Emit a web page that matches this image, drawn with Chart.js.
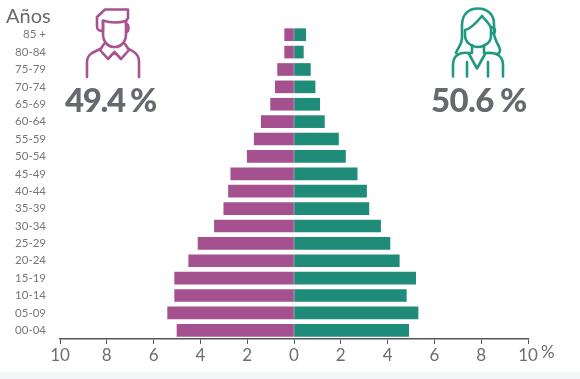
<!DOCTYPE html>
<html><head><meta charset="utf-8">
<script src="https://cdn.jsdelivr.net/npm/chart.js@4"></script>
<style>
html,body{margin:0;padding:0;background:#fff;width:580px;height:379px;overflow:hidden;font-family:Lato,sans-serif}
#wrap{position:relative;width:580px;height:379px}
#strip{position:absolute;left:0;top:372px;width:580px;height:7px;background:#f4f5f7}
canvas{position:absolute;left:0;top:0}
.t{position:absolute;color:#666a6e;white-space:nowrap;line-height:1}
.big{font-size:33px;font-weight:900;letter-spacing:-.6px;word-spacing:-1px}
svg{position:absolute;left:0;top:0}
</style></head><body>
<div id="wrap">
<div id="strip"></div>
<canvas id="c" width="580" height="379"></canvas>
<div class="t" style="left:6px;top:5px;font-size:20px">Años</div>
<div class="t big" style="left:65px;top:83px;letter-spacing:-1.4px">49.4 %</div>
<div class="t big" style="left:431px;top:83px">50.6 %</div>
<div class="t" style="left:541px;top:343px;font-size:17px">%</div>
<svg width="580" height="379" fill="none" stroke-width="2.6" stroke-linecap="round" stroke-linejoin="round">
<g stroke="#a8538f">
<path d="M103 31C98 31 97 29 97 26V17L105 9.500H128V18L126 21C118 23 110 23 103 20.500Z"/>
<path d="M103 21V34C103 42 108 47 114.500 47C121 47 126 42 126 34V21"/>
<path d="M126 24C128 24 128.500 26 128.500 28C128.500 31 127 32 126 32"/>
<path d="M104 44L100 50L108 59L114.500 52L121 59L129 50L125 44"/>
<path d="M100 49L92 53C89 55 87 58 87 62V77"/>
<path d="M129 49L134 52C137 54 139 58 139 62V77"/>
</g>
<g stroke="#1f9a80">
<path d="M456 53C458 47 462 45 462 38V25C462 14 469 8.500 478 8.500C487 8.500 494 14 494 24V33C494 40 500 46 500 50C500 53 498 54 496 54"/>
<path d="M465 30C471 29 477 22 482 16C486 21 491 25 491 29V36C491 42 485 47 478 47C471 47 465 42 465 35Z"/>
<path d="M491 27C494 27 495 29 495 31C495 33 493 34 491 33"/>
<path d="M472 45V53L468 53M484 45V53L488 53"/>
<path d="M468 53C460 52 453 55 453 65V76.500"/>
<path d="M488 53C496 52 503 56 503 65V76.500"/>
<path d="M469 54L477 68.500L485 54"/>
<path d="M467 62V76.500M488 62V76.500"/>
</g>
</svg>
</div>
<script>
const categories=['85 +','80-84','75-79','70-74','65-69','60-64','55-59','50-54','45-49','40-44','35-39','30-34','25-29','20-24','15-19','10-14','05-09','00-04'];
const men=[0.4,0.4,0.7,0.8,1.0,1.4,1.7,2.0,2.7,2.8,3.0,3.4,4.1,4.5,5.1,5.1,5.4,5.0];
const women=[0.5,0.4,0.7,0.9,1.1,1.3,1.9,2.2,2.7,3.1,3.2,3.7,4.1,4.5,5.2,4.8,5.3,4.9];
const xTicks=[-10,-8,-6,-4,-2,0,2,4,6,8,10];
new Chart(document.getElementById('c'),{
 type:'bar',
 data:{labels:categories,datasets:[
  {label:'Hombres',data:men.map(v=>-v),backgroundColor:'#a5508f',barThickness:12,borderWidth:0},
  {label:'Mujeres',data:women,backgroundColor:'#1e8c78',barThickness:12,borderWidth:0}]},
 options:{
  indexAxis:'y',responsive:false,animation:false,
  layout:{padding:{top:26,right:52,left:0,bottom:0}},
  plugins:{legend:{display:false},tooltip:{enabled:false}},
  scales:{
   x:{min:-10,max:10,stacked:true,
      afterBuildTicks:a=>{a.ticks=xTicks.map(v=>({value:v}));},
      afterFit:a=>{a.height=40;},
      border:{color:'#555',width:1.5},
      grid:{drawOnChartArea:false,drawTicks:true,tickLength:5,color:'#555',lineWidth:1},
      ticks:{color:'#6a6e72',font:{family:'Lato',size:17},padding:1,maxRotation:0,autoSkip:false,callback:v=>Math.abs(v)}},
   y:{stacked:true,
      afterFit:a=>{a.width=60;},
      border:{display:false},grid:{display:false},
      ticks:{color:'#75787c',font:{family:'Lato',size:11.5},padding:6,autoSkip:false}}
  }
 }
});
</script>
</body></html>
